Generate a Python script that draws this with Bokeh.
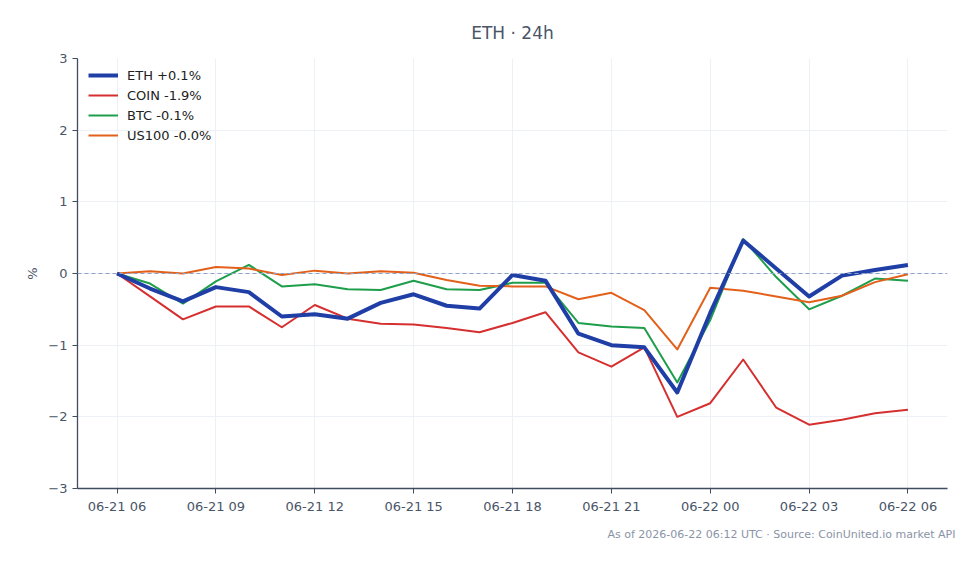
import pandas as pd
from bokeh.plotting import figure
from bokeh.models import (Range1d, FixedTicker, DatetimeTickFormatter, Span, Legend,
                          LegendItem, Title)
from bokeh.embed import file_html
from bokeh.resources import INLINE

# ---- data ----
start_time = "2026-06-21 06:00"
n_points = 25
eth = [0.00, -0.21, -0.39, -0.19, -0.26, -0.60, -0.57, -0.63, -0.41, -0.29, -0.45, -0.49,
       -0.02, -0.10, -0.84, -1.00, -1.03, -1.66, -0.55, 0.46, 0.07, -0.32, -0.03, 0.05, 0.12]
coin = [0.00, -0.32, -0.64, -0.46, -0.46, -0.75, -0.44, -0.63, -0.70, -0.71, -0.76, -0.82,
        -0.69, -0.54, -1.10, -1.30, -1.03, -2.00, -1.81, -1.20, -1.87, -2.11, -2.04, -1.95, -1.90]
btc = [0.00, -0.14, -0.42, -0.11, 0.12, -0.18, -0.15, -0.22, -0.23, -0.10, -0.22, -0.23,
       -0.13, -0.13, -0.69, -0.74, -0.76, -1.52, -0.65, 0.48, -0.05, -0.50, -0.31, -0.07, -0.10]
us100 = [0.00, 0.03, 0.00, 0.09, 0.07, -0.02, 0.04, 0.00, 0.03, 0.01, -0.09, -0.17,
         -0.18, -0.18, -0.36, -0.27, -0.51, -1.06, -0.20, -0.24, -0.32, -0.40, -0.31, -0.12, -0.01]
series_names = ["ETH +0.1%", "COIN -1.9%", "BTC -0.1%", "US100 -0.0%"]
y_ticks = [-3, -2, -1, 0, 1, 2, 3]
y_tick_labels = ["\u22123", "\u22122", "\u22121", "0", "1", "2", "3"]
title_text = "ETH \u00b7 24h"
footer_text = "As of 2026-06-22 06:12 UTC \u00b7 Source: CoinUnited.io market API"

times = pd.date_range(start_time, periods=n_points, freq="h")
t0 = times[0].value / 1e6
t1 = times[-1].value / 1e6
pad = (t1 - t0) * 0.05
x_ticks = [t.value / 1e6 for t in times[::3]]

FONT = "DejaVu Sans"
TXT = "#4a5568"
AX = "#3f4d5f"

p = figure(width=979, height=564, output_backend="svg", toolbar_location=None,
           x_axis_type="datetime",
           x_range=Range1d(t0 - pad, t1 + pad), y_range=Range1d(-3, 3),
           min_border_left=77, min_border_right=32, min_border_top=58, min_border_bottom=76)
p.outline_line_color = None
p.background_fill_color = "white"

p.title = Title(text=title_text, align="center", text_font=FONT, text_font_size="17px",
                text_color=TXT, text_font_style="normal", standoff=32)

p.xaxis.ticker = FixedTicker(ticks=x_ticks)
p.xaxis.formatter = DatetimeTickFormatter(hours="%m-%d %H", days="%m-%d %H",
                                          hourmin="%m-%d %H", minutes="%m-%d %H")
p.yaxis.ticker = FixedTicker(ticks=y_ticks)
p.yaxis.major_label_overrides = {v: s for v, s in zip(y_ticks, y_tick_labels)}
p.yaxis.axis_label = "%"

for ax in [p.xaxis[0], p.yaxis[0]]:
    ax.axis_line_color = AX
    ax.axis_line_width = 1.3
    ax.major_tick_line_color = AX
    ax.minor_tick_line_color = None
    ax.major_tick_in = 0
    ax.major_tick_out = 5
    ax.major_label_text_font = FONT
    ax.major_label_text_font_size = "13px"
    ax.major_label_text_color = TXT
    ax.axis_label_text_font = FONT
    ax.axis_label_text_font_size = "13px"
    ax.axis_label_text_color = TXT
    ax.axis_label_text_font_style = "normal"

p.xgrid.grid_line_color = "#edf0f4"
p.ygrid.grid_line_color = "#edf0f4"

p.add_layout(Span(location=0, dimension="width", line_color="#8ea3c6",
                  line_dash="4 3", line_width=1))

colors = ["#1f3ea6", "#d62f2f", "#1e9e4a", "#e2601a"]
widths = [4, 2, 2, 2]
renderers = []
for ys, c, w in zip([coin, btc, us100, eth], colors[1:] + colors[:1], widths[1:] + widths[:1]):
    r = p.line(times, ys, line_color=c, line_width=w, line_join="round")
    renderers.append(r)
ordered = [renderers[3], renderers[0], renderers[1], renderers[2]]
items = [LegendItem(label=name, renderers=[r]) for name, r in zip(series_names, ordered)]

legend = Legend(items=items, location=(11, 343), margin=0, padding=0, spacing=0,
                label_text_font=FONT, label_text_font_size="13px", label_text_color="#222222",
                glyph_width=30, glyph_height=20, label_height=20, label_standoff=9,
                border_line_color=None, background_fill_alpha=0)
p.add_layout(legend)

p.add_layout(Title(text=footer_text, align="right", text_font=FONT, text_font_size="11px",
                   text_color="#8a94a6", text_font_style="normal", offset=-8, standoff=19),
             "below")

open("out.html", "w").write(file_html(p, INLINE))
